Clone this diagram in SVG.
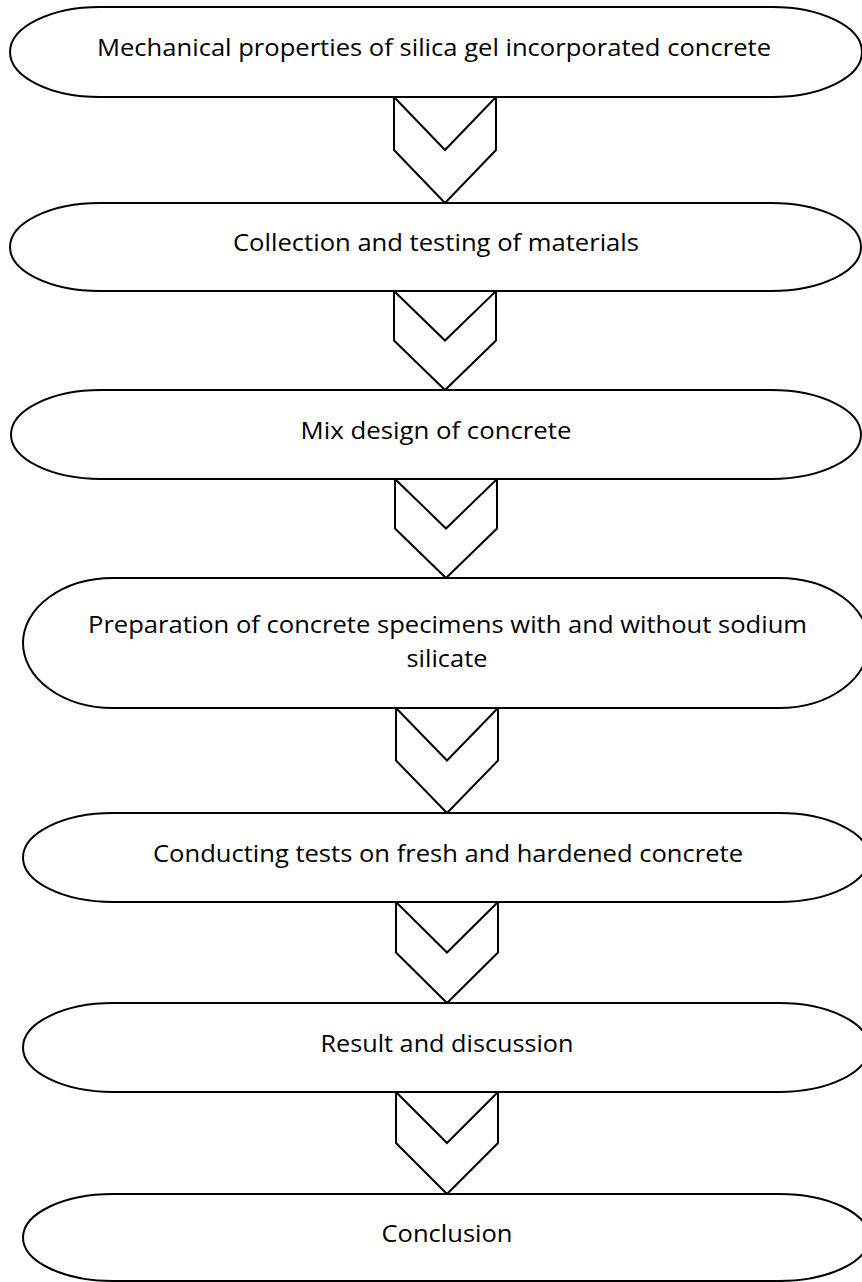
<svg xmlns="http://www.w3.org/2000/svg" width="862" height="1282" viewBox="0 0 862 1282">
<style>
.s{fill:#fff;stroke:#000;stroke-width:2}
.a{fill:#fff;stroke:#000;stroke-width:2;stroke-linejoin:miter}
.t{font-family:"Open Sans",Lato,"Liberation Sans",sans-serif;font-size:24px;fill:#000;text-anchor:middle}
</style>
<rect width="862" height="1282" fill="#fff"/>
<g id="connectors">
<path class="a" d="M394,97 L445,150 L496,97 L496,150 L445,203 L394,150 Z"/>
<path class="a" d="M394,291 L445,340.5 L496,291 L496,340.5 L445,390 L394,340.5 Z"/>
<path class="a" d="M395,479 L446,528.5 L497,479 L497,528.5 L446,578 L395,528.5 Z"/>
<path class="a" d="M396,708 L447,760.5 L498,708 L498,760.5 L447,813 L396,760.5 Z"/>
<path class="a" d="M396,902 L447,952.5 L498,902 L498,952.5 L447,1003 L396,952.5 Z"/>
<path class="a" d="M396,1092 L447,1143 L498,1092 L498,1143 L447,1194 L396,1143 Z"/>
</g>
<g id="n1">
<path class="s" d="M100,7 H772 A90 45 0 0 1 772,97 H100 A90 45 0 0 1 100,7 Z"/>
<text class="t" x="434" y="56" textLength="674" lengthAdjust="spacingAndGlyphs">Mechanical properties of silica gel incorporated concrete</text>
</g>
<g id="n2">
<path class="s" d="M100,203 H771 A90 44 0 0 1 771,291 H100 A90 44 0 0 1 100,203 Z"/>
<text class="t" x="436" y="251" textLength="406" lengthAdjust="spacingAndGlyphs">Collection and testing of materials</text>
</g>
<g id="n3">
<path class="s" d="M101,390 H771 A90 44.5 0 0 1 771,479 H101 A90 44.5 0 0 1 101,390 Z"/>
<text class="t" x="436" y="439" textLength="271" lengthAdjust="spacingAndGlyphs">Mix design of concrete</text>
</g>
<g id="n4">
<path class="s" d="M113,578 H779 A90 65 0 0 1 779,708 H113 A90 65 0 0 1 113,578 Z"/>
<text class="t" x="447.5" y="633" textLength="719" lengthAdjust="spacingAndGlyphs">Preparation of concrete specimens with and without sodium</text>
<text class="t" x="447" y="667" textLength="81" lengthAdjust="spacingAndGlyphs">silicate</text>
</g>
<g id="n5">
<path class="s" d="M113,813 H779 A90 44.5 0 0 1 779,902 H113 A90 44.5 0 0 1 113,813 Z"/>
<text class="t" x="448" y="862" textLength="590" lengthAdjust="spacingAndGlyphs">Conducting tests on fresh and hardened concrete</text>
</g>
<g id="n6">
<path class="s" d="M113,1003 H779 A90 44.5 0 0 1 779,1092 H113 A90 44.5 0 0 1 113,1003 Z"/>
<text class="t" x="447" y="1052" textLength="253" lengthAdjust="spacingAndGlyphs">Result and discussion</text>
</g>
<g id="n7">
<path class="s" d="M113,1194 H779 A90 43.5 0 0 1 779,1281 H113 A90 43.5 0 0 1 113,1194 Z"/>
<text class="t" x="447" y="1242" textLength="131" lengthAdjust="spacingAndGlyphs">Conclusion</text>
</g>
</svg>
